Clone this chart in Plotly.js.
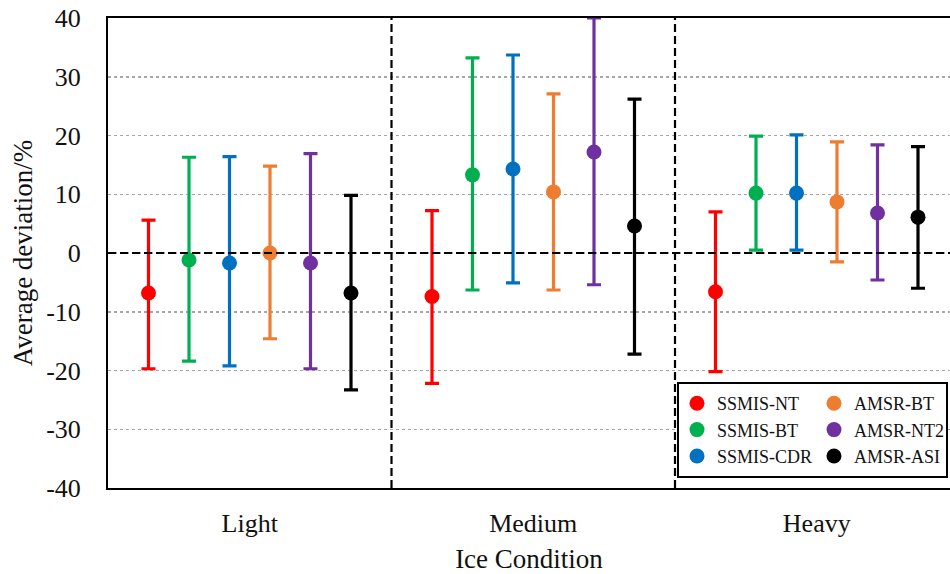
<!DOCTYPE html>
<html>
<head>
<meta charset="utf-8">
<script src="https://cdn.plot.ly/plotly-3.0.1.min.js"></script>
<style>html,body{margin:0;padding:0;background:#fff;}#chart{width:950px;height:574px;}</style>
</head>
<body>
<div id="chart"></div>
<script>
const categories = ["Light", "Medium", "Heavy"];
const seriesNames = ["SSMIS-NT", "SSMIS-BT", "SSMIS-CDR", "AMSR-BT", "AMSR-NT2", "AMSR-ASI"];
const colors = ["#FF0000", "#00B050", "#0070C0", "#ED7D31", "#7030A0", "#000000"];

// mean deviation per category (Light, Medium, Heavy)
const meanNT   = [-6.8, -7.4, -6.6];
const meanBT   = [-1.2, 13.3, 10.2];
const meanCDR  = [-1.7, 14.3, 10.2];
const meanABT  = [0.0, 10.4, 8.7];
const meanNT2  = [-1.7, 17.2, 6.8];
const meanASI  = [-6.8, 4.6, 6.1];

// upper ends of error bars
const upNT   = [5.6, 7.2, 7.0];
const upBT   = [16.3, 33.2, 19.9];
const upCDR  = [16.4, 33.7, 20.1];
const upABT  = [14.8, 27.1, 18.9];
const upNT2  = [16.9, 40.0, 18.4];
const upASI  = [9.8, 26.2, 18.1];

// lower ends of error bars
const loNT   = [-19.7, -22.2, -20.2];
const loBT   = [-18.4, -6.3, 0.5];
const loCDR  = [-19.2, -5.1, 0.5];
const loABT  = [-14.6, -6.3, -1.5];
const loNT2  = [-19.7, -5.4, -4.6];
const loASI  = [-23.3, -17.2, -6.0];

const yTickVals = [-40, -30, -20, -10, 0, 10, 20, 30, 40];
const yTickText = ["-40", "-30", "-20", "-10", "0", "10", "20", "30", "40"];

const means = [meanNT, meanBT, meanCDR, meanABT, meanNT2, meanASI];
const ups = [upNT, upBT, upCDR, upABT, upNT2, upASI];
const los = [loNT, loBT, loCDR, loABT, loNT2, loASI];

const FONT = "Liberation Serif, Times New Roman, serif";
const nS = seriesNames.length;
const traces = seriesNames.map((name, s) => {
  const off = (2 * s - (nS - 1)) / 14;
  return {
    type: "scatter",
    mode: "markers",
    name: name,
    x: categories.map((c, i) => i + off),
    y: means[s],
    marker: {color: colors[s], size: 15},
    error_y: {
      type: "data", symmetric: false,
      array: ups[s].map((u, i) => u - means[s][i]),
      arrayminus: los[s].map((l, i) => means[s][i] - l),
      color: colors[s], thickness: 3.2, width: 7
    },
    legend: s < 3 ? "legend" : "legend2",
    cliponaxis: false
  };
});

const layout = {
  width: 950, height: 574,
  margin: {l: 108, r: 0, t: 18, b: 86},
  paper_bgcolor: "#fff", plot_bgcolor: "#fff",
  font: {family: FONT, color: "#111", size: 26},
  showlegend: true,
  xaxis: {
    range: [-0.5, 2.47],
    tickvals: [0, 1, 2], ticktext: categories,
    showgrid: false, zeroline: false,
    showline: true, linecolor: "#000", linewidth: 2, mirror: true,
    ticks: "", ticklabelstandoff: 11,
    tickfont: {size: 26},
    title: {text: "Ice Condition", font: {size: 27}, standoff: 15},
    automargin: false, fixedrange: true
  },
  yaxis: {
    range: [-40, 40], tickvals: yTickVals, ticktext: yTickText,
    showgrid: true, gridcolor: "#A6A6A6", gridwidth: 1.5, griddash: "dot",
    zeroline: false,
    showline: true, linecolor: "#000", linewidth: 2,
    ticks: "", ticklabelstandoff: 20,
    tickfont: {size: 26},
    title: {text: "Average deviation/%", font: {size: 27}, standoff: 6},
    automargin: false, fixedrange: true
  },
  shapes: [
    {type: "line", xref: "paper", yref: "y", x0: 0, x1: 1, y0: 0, y1: 0,
     line: {color: "#000", width: 2.2, dash: "8px,4px"}, layer: "above"},
    {type: "line", xref: "x", yref: "paper", x0: 0.5, x1: 0.5, y0: 0, y1: 1,
     line: {color: "#000", width: 2.2, dash: "8px,4px"}, layer: "above"},
    {type: "line", xref: "x", yref: "paper", x0: 1.5, x1: 1.5, y0: 0, y1: 1,
     line: {color: "#000", width: 2.2, dash: "8px,4px"}, layer: "above"},
    {type: "rect", xref: "paper", yref: "paper",
     x0: (678 - 108) / 842, x1: (947 - 108) / 842,
     y0: (488 - 477) / 470, y1: (488 - 383) / 470,
     fillcolor: "#fff", line: {color: "#000", width: 2}, layer: "above"}
  ],
  legend: {
    x: (677 - 108) / 842, y: (488 - 385) / 470, xanchor: "left", yanchor: "top",
    bgcolor: "rgba(0,0,0,0)", borderwidth: 0, tracegroupgap: 0,
    font: {size: 18, family: FONT, color: "#111"}
  },
  legend2: {
    x: (814 - 108) / 842, y: (488 - 385) / 470, xanchor: "left", yanchor: "top",
    bgcolor: "rgba(0,0,0,0)", borderwidth: 0, tracegroupgap: 0,
    font: {size: 18, family: FONT, color: "#111"}
  }
};

Plotly.newPlot("chart", traces, layout, {displayModeBar: false, staticPlot: true});
</script>
</body>
</html>
